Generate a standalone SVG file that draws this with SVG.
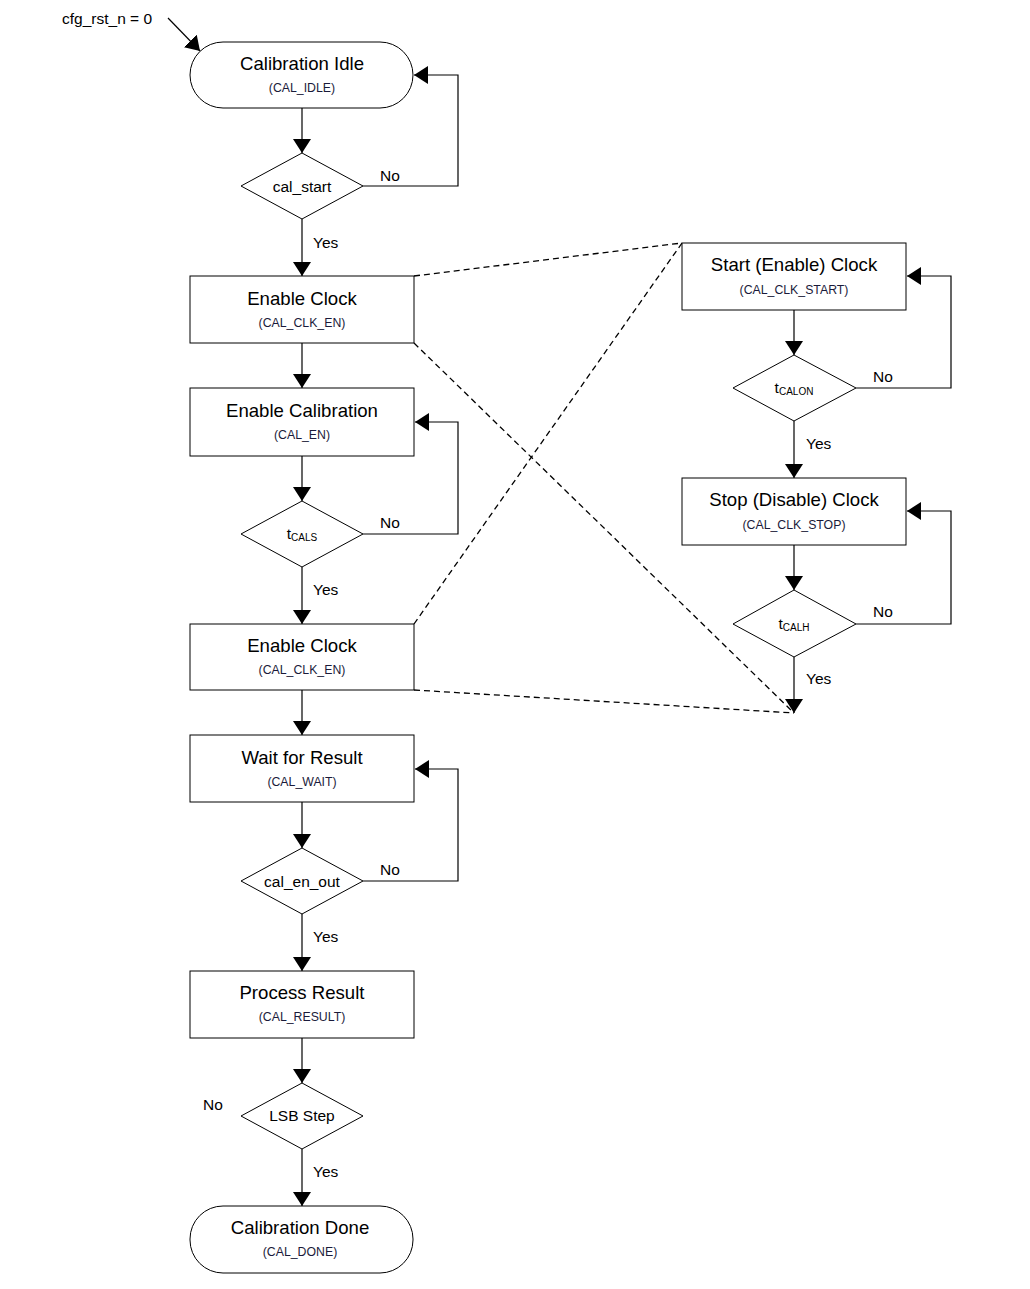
<svg xmlns="http://www.w3.org/2000/svg" width="1030" height="1289" viewBox="0 0 1030 1289">
<defs>
<marker id="ah" viewBox="0 0 14 18" refX="14" refY="9" markerWidth="14" markerHeight="18" markerUnits="userSpaceOnUse" orient="auto">
<path d="M0,0 L14,9 L0,18 Z" fill="#000"/>
</marker>
</defs>
<style>
.box{fill:#fff;stroke:#000;stroke-width:1}
.dia{fill:#fff;stroke:#000;stroke-width:1}
.t{font-family:"Liberation Sans",Arial,sans-serif;font-size:18.6px;fill:#000;text-anchor:middle}
.s{font-family:"Liberation Sans",Arial,sans-serif;font-size:12.3px;fill:#1a1a3a;text-anchor:middle}
.d{font-family:"Liberation Sans",Arial,sans-serif;font-size:15.5px;fill:#000;text-anchor:middle}
.sub{font-size:10px}
.l{font-family:"Liberation Sans",Arial,sans-serif;font-size:15.5px;fill:#000}
.c{fill:none;stroke:#000;stroke-width:1.2}
.a{fill:none;stroke:#000;stroke-width:1.2;marker-end:url(#ah)}
.dash{fill:none;stroke:#000;stroke-width:1.3;stroke-dasharray:6,4}
</style>
<rect width="1030" height="1289" fill="#fff"/>

<g id="connectors">
<line class="a" x1="168" y1="18" x2="200" y2="51"/>
<line class="a" x1="302" y1="108" x2="302" y2="153"/>
<polyline class="a" points="363,186 458,186 458,75 414,75"/>
<line class="a" x1="302" y1="219" x2="302" y2="276"/>
<line class="a" x1="302" y1="343" x2="302" y2="388"/>
<line class="a" x1="302" y1="456" x2="302" y2="501"/>
<polyline class="a" points="363,534 458,534 458,422 415,422"/>
<line class="a" x1="302" y1="567" x2="302" y2="624"/>
<line class="a" x1="302" y1="690" x2="302" y2="735"/>
<line class="a" x1="302" y1="802" x2="302" y2="848"/>
<polyline class="a" points="363,881 458,881 458,769 415,769"/>
<line class="a" x1="302" y1="914" x2="302" y2="971"/>
<line class="a" x1="302" y1="1038" x2="302" y2="1083"/>
<line class="a" x1="302" y1="1149" x2="302" y2="1206"/>
<line class="a" x1="794" y1="310" x2="794" y2="355"/>
<polyline class="a" points="856,388 951,388 951,276 907,276"/>
<line class="a" x1="794" y1="421" x2="794" y2="478"/>
<line class="a" x1="794" y1="545" x2="794" y2="590"/>
<polyline class="a" points="856,624 951,624 951,511 907,511"/>
<line class="a" x1="794" y1="657" x2="794" y2="713"/>
<line class="dash" x1="414" y1="276" x2="682" y2="243"/>
<line class="dash" x1="414" y1="343" x2="794" y2="713"/>
<line class="dash" x1="414" y1="624" x2="682" y2="243"/>
<line class="dash" x1="414" y1="690" x2="794" y2="713"/>
<text class="l" x="62" y="24">cfg_rst_n = 0</text>
<text class="l" x="380" y="181">No</text>
<text class="l" x="313" y="248">Yes</text>
<text class="l" x="380" y="528">No</text>
<text class="l" x="313" y="595">Yes</text>
<text class="l" x="380" y="875">No</text>
<text class="l" x="313" y="942">Yes</text>
<text class="l" x="203" y="1110">No</text>
<text class="l" x="313" y="1177">Yes</text>
<text class="l" x="873" y="382">No</text>
<text class="l" x="806" y="449">Yes</text>
<text class="l" x="873" y="617">No</text>
<text class="l" x="806" y="684">Yes</text>
</g>

<g id="cal_idle">
<rect class="box" x="190" y="42" width="223" height="66" rx="33" ry="33"/>
<text class="t" x="302" y="70">Calibration Idle</text>
<text class="s" x="302" y="92">(CAL_IDLE)</text>
</g>
<g id="cal_start">
<polygon class="dia" points="302,153 363,186 302,219 241,186"/>
<text class="d" x="302" y="192">cal_start</text>
</g>
<g id="enable_clock_1">
<rect class="box" x="190" y="276" width="224" height="67"/>
<text class="t" x="302" y="305">Enable Clock</text>
<text class="s" x="302" y="327">(CAL_CLK_EN)</text>
</g>
<g id="enable_calibration">
<rect class="box" x="190" y="388" width="224" height="68"/>
<text class="t" x="302" y="417">Enable Calibration</text>
<text class="s" x="302" y="439">(CAL_EN)</text>
</g>
<g id="tcals">
<polygon class="dia" points="302,501 363,534 302,567 241,534"/>
<text class="d" x="302" y="539">t<tspan class="sub" dy="2">CALS</tspan></text>
</g>
<g id="enable_clock_2">
<rect class="box" x="190" y="624" width="224" height="66"/>
<text class="t" x="302" y="652">Enable Clock</text>
<text class="s" x="302" y="674">(CAL_CLK_EN)</text>
</g>
<g id="wait_result">
<rect class="box" x="190" y="735" width="224" height="67"/>
<text class="t" x="302" y="764">Wait for Result</text>
<text class="s" x="302" y="786">(CAL_WAIT)</text>
</g>
<g id="cal_en_out">
<polygon class="dia" points="302,848 363,881 302,914 241,881"/>
<text class="d" x="302" y="887">cal_en_out</text>
</g>
<g id="process_result">
<rect class="box" x="190" y="971" width="224" height="67"/>
<text class="t" x="302" y="999">Process Result</text>
<text class="s" x="302" y="1021">(CAL_RESULT)</text>
</g>
<g id="lsb_step">
<polygon class="dia" points="302,1083 363,1116 302,1149 241,1116"/>
<text class="d" x="302" y="1121">LSB Step</text>
</g>
<g id="cal_done">
<rect class="box" x="190" y="1206" width="223" height="67" rx="33" ry="33"/>
<text class="t" x="300" y="1234">Calibration Done</text>
<text class="s" x="300" y="1256">(CAL_DONE)</text>
</g>
<g id="clk_start">
<rect class="box" x="682" y="243" width="224" height="67"/>
<text class="t" x="794" y="271">Start (Enable) Clock</text>
<text class="s" x="794" y="294">(CAL_CLK_START)</text>
</g>
<g id="tcalon">
<polygon class="dia" points="794,355 856,388 794,421 733,388"/>
<text class="d" x="794" y="393">t<tspan class="sub" dy="2">CALON</tspan></text>
</g>
<g id="clk_stop">
<rect class="box" x="682" y="478" width="224" height="67"/>
<text class="t" x="794" y="506">Stop (Disable) Clock</text>
<text class="s" x="794" y="529">(CAL_CLK_STOP)</text>
</g>
<g id="tcalh">
<polygon class="dia" points="794,590 856,624 794,657 733,624"/>
<text class="d" x="794" y="629">t<tspan class="sub" dy="2">CALH</tspan></text>
</g>
</svg>
